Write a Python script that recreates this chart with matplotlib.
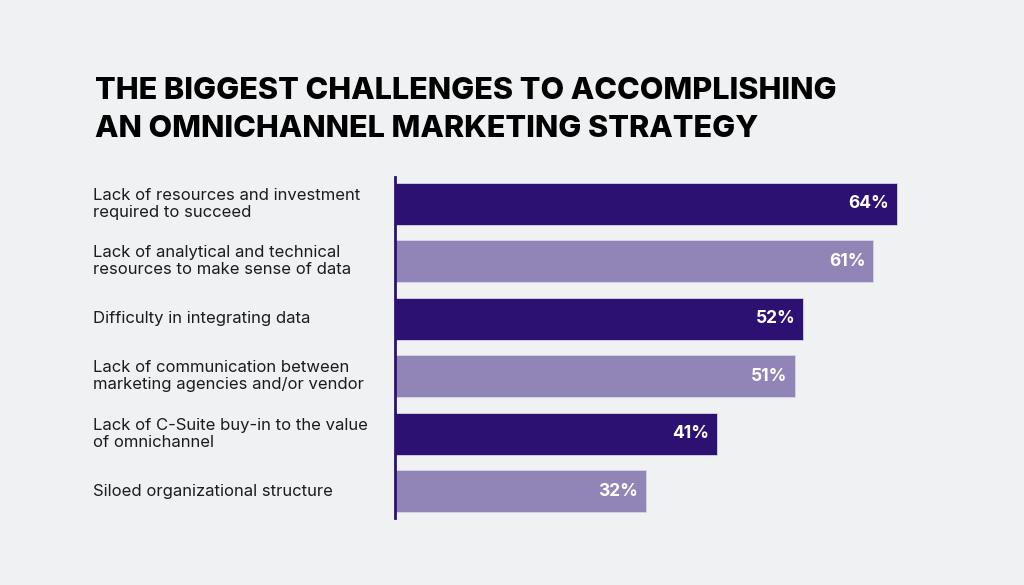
import matplotlib
matplotlib.use("Agg")
import matplotlib.pyplot as plt

# data
labels = [
    "Lack of resources and investment\nrequired to succeed",
    "Lack of analytical and technical\nresources to make sense of data",
    "Difficulty in integrating data",
    "Lack of communication between\nmarketing agencies and/or vendor",
    "Lack of C-Suite buy-in to the value\nof omnichannel",
    "Siloed organizational structure",
]
values = [64, 61, 52, 51, 41, 32]
title_lines = ["THE BIGGEST CHALLENGES TO ACCOMPLISHING",
               "AN OMNICHANNEL MARKETING STRATEGY"]

BG = "#f0f1f3"
DARK = "#2d1172"
LIGHT = "#9184b6"
W, H = 1024, 585

fig = plt.figure(figsize=(W / 100, H / 100), dpi=100, facecolor=BG)
# axes placed in pixel terms: left edge at the vertical line
ax = fig.add_axes([395 / W, (H - 518) / H, 549 / W, 341 / H])
ax.set_facecolor(BG)

pos = list(range(len(values)))
colors = [DARK if i % 2 == 0 else LIGHT for i in pos]
ax.barh(pos, values, height=0.73, color=colors, edgecolor="#d8d4e6", linewidth=0.6)
ax.set_xlim(0, 70)
ax.set_ylim(5.47, -0.47)

for sp in ["top", "right", "bottom"]:
    ax.spines[sp].set_visible(False)
ax.spines["left"].set_color(DARK)
ax.spines["left"].set_linewidth(2)
ax.set_xticks([])
ax.set_yticks([])

for p, v in zip(pos, values):
    ax.annotate(f"{v}%", xy=(v, p), xytext=(-5.5, 0), textcoords="offset points",
                ha="right", va="center", color="white", fontsize=12.5,
                fontweight="bold", family="Inter")

# category labels, left aligned at fixed figure x
for p, lab in zip(pos, labels):
    y = ax.transData.transform((0, p))[1] / H
    fig.text(93 / W, y, lab, ha="left", va="center", fontsize=12,
             color="#1c1c1c", family="Inter", linespacing=1.15)

fig.text(95 / W, 1 - 99 / H, title_lines[0], ha="left", va="baseline",
         fontsize=22, fontweight="heavy", family="Inter", color="black")
fig.text(95 / W, 1 - 137 / H, title_lines[1], ha="left", va="baseline",
         fontsize=22, fontweight="heavy", family="Inter", color="black")

fig.savefig("out.png", dpi=100, facecolor=BG)
